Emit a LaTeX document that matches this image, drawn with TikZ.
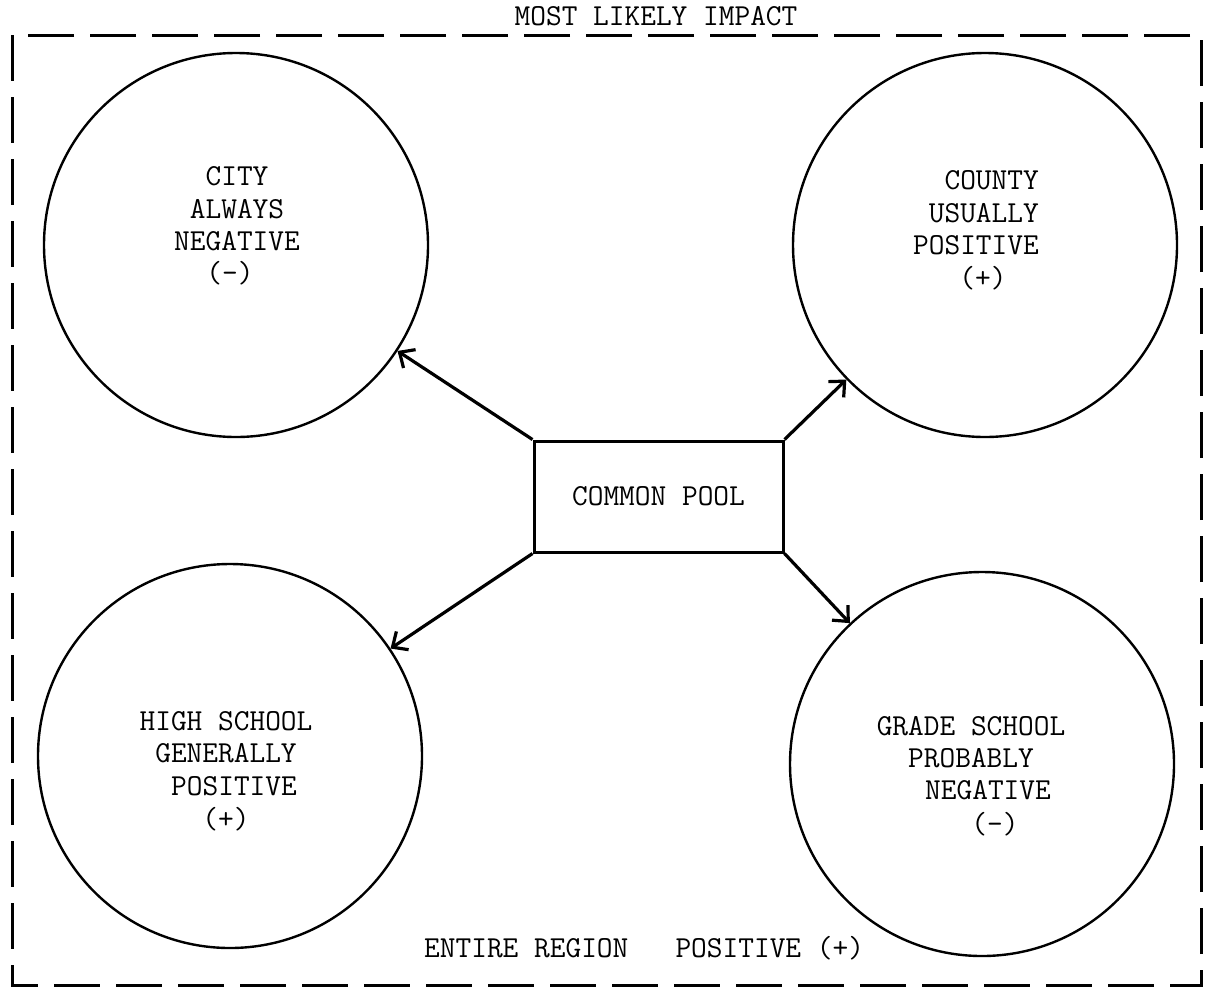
\documentclass[tikz,border=0pt]{standalone}
\usepackage{fontspec}
\usetikzlibrary{arrows.meta}
\tikzset{
  lbl/.style={font=\ttfamily\fontsize{30.5}{32.5}\selectfont, inner sep=0pt, anchor=base},
  region/.style={draw, circle, line width=2.4pt, minimum size=384pt, inner sep=0pt},
  poolbox/.style={draw, rectangle, line width=3pt, minimum width=249pt, minimum height=111pt,
    font=\ttfamily\fontsize{30.5}{32.5}\selectfont},
  arr/.style={line width=3.2pt, -{Straight Barb[length=12pt,width=22pt]}},
  frame/.style={line width=3pt, dash pattern=on 46pt off 16pt}
}
\begin{document}
\begin{tikzpicture}[x=1pt,y=-1pt]
\useasboundingbox (0,0) rectangle (1206,991);
% frame
\draw[frame] (12,35) rectangle (1201,985);
\node[lbl] (title) at (656,25) {MOST LIKELY IMPACT};
\node[lbl, anchor=base west] (entire) at (424,957) {ENTIRE REGION\ \ \ POSITIVE (+)};
% circles
\node[region] (city) at (236,245) {};
\node[region] (county) at (985,245) {};
\node[region] (high) at (230,756) {};
\node[region] (grade) at (982,764) {};
% pool
\node[poolbox] (pool) at (658.5,496.5) {COMMON POOL};
% arrows
\draw[arr] (pool.north west) -- (city);
\draw[arr] (pool.north east) -- (county);
\draw[arr] (pool.south west) -- (high);
\draw[arr] (pool.south east) -- (grade);
% city text
\node[lbl] (c1) at (237,185) {CITY};
\node[lbl] (c2) at (237,218) {ALWAYS};
\node[lbl] (c3) at (237,250) {NEGATIVE};
\node[lbl] (c4) at (230,282) {(-)};
% county text
\node[lbl, anchor=base east] (k1) at (1039,189) {COUNTY};
\node[lbl, anchor=base east] (k2) at (1039,222) {USUALLY};
\node[lbl, anchor=base east] (k3) at (1039,254) {POSITIVE};
\node[lbl] (k4) at (983,287) {(+)};
% high school text
\node[lbl] (h1) at (226,730) {HIGH SCHOOL};
\node[lbl] (h2) at (226,762) {GENERALLY};
\node[lbl] (h3) at (234,795) {POSITIVE};
\node[lbl] (h4) at (226,828) {(+)};
% grade school text
\node[lbl] (g1) at (971,735) {GRADE SCHOOL};
\node[lbl] (g2) at (971,767) {PROBABLY};
\node[lbl] (g3) at (988,799) {NEGATIVE};
\node[lbl] (g4) at (995,833) {(-)};
\end{tikzpicture}
\end{document}
